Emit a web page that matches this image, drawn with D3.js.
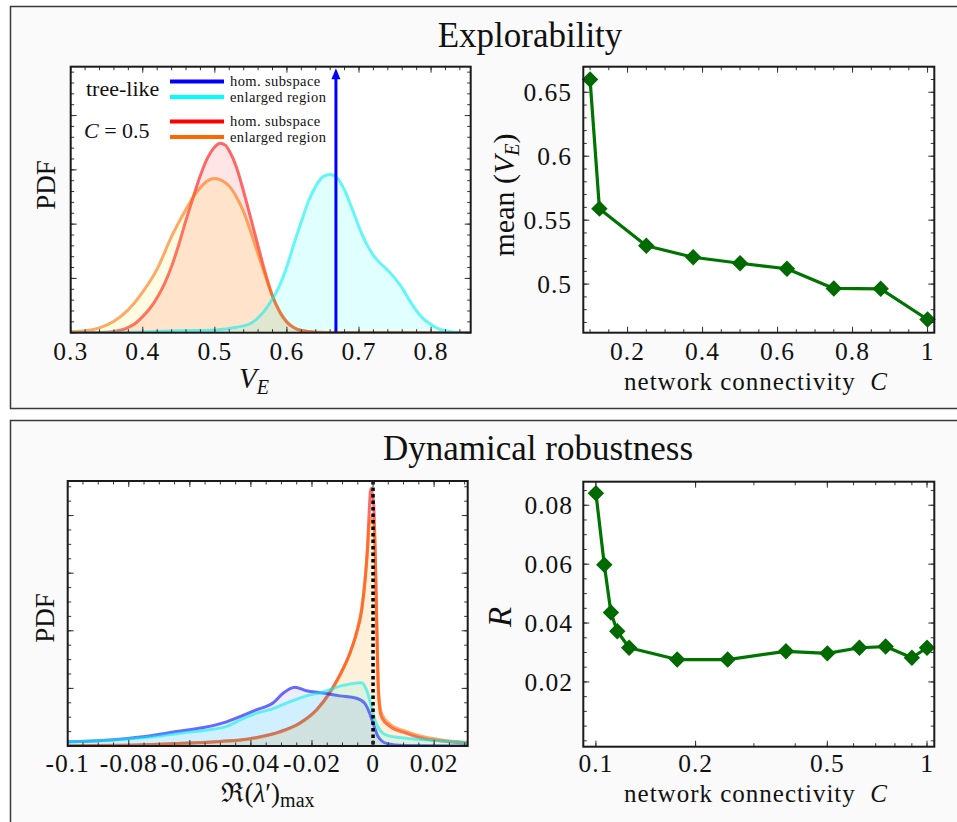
<!DOCTYPE html>
<html>
<head>
<meta charset="utf-8">
<script src="https://cdn.jsdelivr.net/npm/d3@7/dist/d3.min.js"></script>
<style>
  body { margin: 0; background: #ffffff; }
  svg { display: block; }
</style>
</head>
<body>
<div id="chart"></div>
<script>
// ---- explorability: PDF of V_E (arbitrary units) ----
const veEnlargedTree = [
  [0.3, 0], [0.4, 0.03], [0.45, 0.07], [0.5, 0.1], [0.53, 0.2], [0.55, 0.35], [0.56, 0.55],
  [0.57, 0.85], [0.58, 1.25], [0.59, 1.75], [0.6, 2.45], [0.61, 3.3], [0.62, 4.1], [0.63, 4.85],
  [0.64, 5.4], [0.65, 5.75], [0.66, 5.83], [0.67, 5.7], [0.68, 5.25], [0.69, 4.6], [0.7, 3.9],
  [0.71, 3.3], [0.72, 2.85], [0.73, 2.55], [0.74, 2.3], [0.75, 2.0], [0.76, 1.65], [0.77, 1.2],
  [0.78, 0.8], [0.79, 0.5], [0.8, 0.3], [0.81, 0.15], [0.82, 0.07], [0.83, 0.03], [0.84, 0.01], [0.86, 0],
]
const veHomC05 = [
  [0.3, 0], [0.35, 0.02], [0.37, 0.1], [0.38, 0.2], [0.39, 0.35], [0.4, 0.6], [0.41, 0.9], [0.42, 1.3],
  [0.43, 1.8], [0.44, 2.45], [0.45, 3.25], [0.46, 4.15], [0.47, 5.0], [0.48, 5.8], [0.49, 6.45],
  [0.5, 6.85], [0.507, 6.98], [0.515, 6.9], [0.52, 6.7], [0.53, 6.1], [0.54, 5.2], [0.55, 4.2],
  [0.56, 3.2], [0.57, 2.2], [0.58, 1.35], [0.59, 0.75], [0.6, 0.38], [0.61, 0.18], [0.62, 0.08],
  [0.64, 0.02], [0.7, 0], [0.86, 0],
]
const veEnlargedC05 = [
  [0.3, 0.04], [0.32, 0.07], [0.34, 0.18], [0.36, 0.42], [0.38, 0.85], [0.4, 1.5], [0.42, 2.35],
  [0.44, 3.55], [0.46, 4.55], [0.47, 5.0], [0.48, 5.35], [0.49, 5.6], [0.5, 5.68], [0.51, 5.6],
  [0.52, 5.4], [0.53, 5.0], [0.54, 4.45], [0.55, 3.7], [0.56, 2.9], [0.57, 2.1], [0.58, 1.35],
  [0.59, 0.8], [0.6, 0.4], [0.61, 0.18], [0.62, 0.08], [0.64, 0.02], [0.7, 0], [0.86, 0],
]
const veHomTree = 0.668 // delta-like peak, drawn as an arrow

const connExpl = [0.1, 0.125, 0.25, 0.375, 0.5, 0.625, 0.75, 0.875, 1]
const meanVE = [0.66, 0.559, 0.53, 0.521, 0.5163, 0.512, 0.4966, 0.4963, 0.4723]

// ---- dynamical robustness: PDF of Re(lambda')max ----
const lamHomTree = [
  [-0.1, 0.75], [-0.0862, 1.06], [-0.0753, 1.6], [-0.0643, 2.5], [-0.0556, 3.2], [-0.048, 4.2],
  [-0.0436, 5.1], [-0.0381, 6.3], [-0.0327, 7.5], [-0.0294, 9.2], [-0.0256, 10.2], [-0.0218, 9.6],
  [-0.0163, 9.2], [-0.0109, 8.7], [-0.0054, 8.3], [-0.0027, 7.4], [-0.0011, 5.7], [0, 4.0],
  [0.0017, 1.6], [0.0044, 0.46], [0.01, 0.1], [0.031, 0],
]
const lamEnlargedTree = [
  [-0.1, 0.7], [-0.0916, 0.87], [-0.0807, 1.2], [-0.0698, 1.75], [-0.059, 2.5], [-0.048, 3.4],
  [-0.0436, 4.5], [-0.0381, 5.7], [-0.0327, 6.5], [-0.0272, 7.7], [-0.0218, 8.7], [-0.0163, 9.4],
  [-0.0109, 10.4], [-0.0038, 11.0], [-0.0021, 9.7], [-0.0005, 6.8], [0.0006, 4.5], [0.0022, 2.8],
  [0.0044, 1.9], [0.011, 1.33], [0.0219, 0.92], [0.031, 0.55],
]
const lamHomC05 = [
  [-0.1, 0.05], [-0.09, 0.1], [-0.08, 0.15], [-0.07, 0.3], [-0.06, 0.5], [-0.05, 0.8],
  [-0.0436, 1.05], [-0.0381, 1.5], [-0.0305, 2.5], [-0.024, 4.0], [-0.0185, 6.3], [-0.0141, 9.4],
  [-0.0109, 12.3], [-0.0076, 16.1], [-0.0054, 19.6], [-0.0037, 23.6], [-0.0026, 28.8],
  [-0.0018, 34.6], [-0.0013, 40.4], [-0.0007, 44.7], [0.0002, 42], [0.001, 27], [0.0016, 11.5],
  [0.0023, 6.0], [0.003, 4.8], [0.0055, 3.4], [0.011, 2.2], [0.0164, 1.3], [0.0219, 0.9], [0.031, 0.45],
]
const lamEnlargedC05 = [
  [-0.1, 0.05], [-0.09, 0.1], [-0.08, 0.15], [-0.07, 0.3], [-0.06, 0.5], [-0.05, 0.8],
  [-0.0436, 1.0], [-0.0381, 1.4], [-0.0305, 2.4], [-0.024, 3.9], [-0.0185, 6.2], [-0.0141, 9.2],
  [-0.0109, 12.2], [-0.0076, 16.0], [-0.0054, 19.8], [-0.0037, 24], [-0.0026, 29], [-0.0018, 34],
  [-0.0012, 38.5], [-0.0005, 39.6], [0.0004, 38], [0.0011, 24], [0.0017, 11], [0.0023, 6.8],
  [0.003, 5.4], [0.0055, 3.8], [0.011, 2.5], [0.0164, 1.6], [0.0219, 1.1], [0.031, 0.6],
]

const connRob = [0.1, 0.106, 0.111, 0.116, 0.126, 0.176, 0.25, 0.375, 0.5, 0.625, 0.75, 0.9, 1]
const robR = [0.0841, 0.0598, 0.0436, 0.0372, 0.0316, 0.0276, 0.0276, 0.0304, 0.0297, 0.0316, 0.032, 0.0282, 0.0316]

// tick labels
const veTickLabels = [0.3, 0.4, 0.5, 0.6, 0.7, 0.8]
const meanXTicks = [0.2, 0.4, 0.6, 0.8, 1]
const meanYTicks = [0.5, 0.55, 0.6, 0.65]
const lamTickLabels = [-0.1, -0.08, -0.06, -0.04, -0.02, 0, 0.02]
const rXTicks = [0.1, 0.2, 0.5, 1]
const rYTicks = [0.02, 0.04, 0.06, 0.08]

const SERIF = "'Liberation Serif', 'DejaVu Serif', serif"
const GREEN = '#007400'

const svg = d3.select('#chart').append('svg').attr('width', 957).attr('height', 822)

// panels
const addPanel = (y, h, title, titleX, titleY) => {
  svg
    .append('rect')
    .attr('x', 10.5)
    .attr('y', y)
    .attr('width', 970)
    .attr('height', h)
    .attr('fill', '#fafafa')
    .attr('stroke', '#3a3a3a')
    .attr('stroke-width', 1.5)
  svg
    .append('text')
    .attr('x', titleX)
    .attr('y', titleY)
    .attr('text-anchor', 'middle')
    .attr('font-family', SERIF)
    .attr('font-size', 35)
    .attr('fill', '#111')
    .text(title)
}
addPanel(6.5, 402, 'Explorability', 530, 47)
addPanel(420.5, 420, 'Dynamical robustness', 538, 460)

const stepTicks = (lo, hi, step) => {
  const out = []
  for (let i = Math.ceil(lo / step - 1e-9); i * step <= hi + 1e-9; i++) out.push(+(i * step).toFixed(6))
  return out
}

const addPlot = (x, y, id) => {
  const [l, r] = x.range()
  const [b, t] = y.range()
  const g = svg.append('g')
  g.append('rect').attr('x', l).attr('y', t).attr('width', r - l).attr('height', b - t).attr('fill', '#ffffff')
  g.append('clipPath').attr('id', id).append('rect').attr('x', l).attr('y', t).attr('width', r - l).attr('height', b - t)
  const inner = g.append('g').attr('clip-path', `url(#${id})`)
  return { g, inner }
}

const drawFrame = (g, x, y, xMaj, xMin, yMaj, yMin) => {
  const [l, r] = x.range()
  const [b, t] = y.range()
  const ticks = g.append('g').attr('stroke', '#333').attr('stroke-width', 1)
  const vTicks = (vals, len) =>
    vals.forEach((v) => {
      ticks.append('line').attr('x1', x(v)).attr('x2', x(v)).attr('y1', b).attr('y2', b - len)
      ticks.append('line').attr('x1', x(v)).attr('x2', x(v)).attr('y1', t).attr('y2', t + len)
    })
  const hTicks = (vals, len) =>
    vals.forEach((v) => {
      ticks.append('line').attr('y1', y(v)).attr('y2', y(v)).attr('x1', l).attr('x2', l + len)
      ticks.append('line').attr('y1', y(v)).attr('y2', y(v)).attr('x1', r).attr('x2', r - len)
    })
  vTicks(xMin, 3.5)
  vTicks(xMaj, 6)
  hTicks(yMin, 3.5)
  hTicks(yMaj, 6)
  g.append('rect')
    .attr('x', l)
    .attr('y', t)
    .attr('width', r - l)
    .attr('height', b - t)
    .attr('fill', 'none')
    .attr('stroke', '#1a1a1a')
    .attr('stroke-width', 2)
}

const xLabels = (g, x, vals, baseline) => {
  g.selectAll(null)
    .data(vals)
    .join('text')
    .attr('x', (d) => x(d))
    .attr('y', baseline)
    .attr('text-anchor', 'middle')
    .attr('font-family', SERIF)
    .attr('font-size', 25.5)
    .attr('letter-spacing', 1)
    .attr('fill', '#111')
    .text((d) => String(d))
}

const yLabels = (g, y, vals, right) => {
  g.selectAll(null)
    .data(vals)
    .join('text')
    .attr('x', right)
    .attr('y', (d) => y(d) + 9)
    .attr('text-anchor', 'end')
    .attr('font-family', SERIF)
    .attr('font-size', 25.5)
    .attr('letter-spacing', 1)
    .attr('fill', '#111')
    .text((d) => String(d))
}

const drawDensity = (g, x, y, data, stroke, fill, fillOpacity) => {
  const area = d3
    .area()
    .x((d) => x(d[0]))
    .y0(y(0))
    .y1((d) => y(d[1]))
    .curve(d3.curveMonotoneX)
  g.append('path').attr('d', area(data)).attr('fill', fill).attr('fill-opacity', fillOpacity)
  g.append('path')
    .attr('d', area.lineY1()(data))
    .attr('fill', 'none')
    .attr('stroke', stroke)
    .attr('stroke-opacity', 0.58)
    .attr('stroke-width', 3)
    .attr('stroke-linejoin', 'round')
}

const rotatedLabel = (x, y, size) =>
  svg
    .append('text')
    .attr('transform', `translate(${x},${y}) rotate(-90)`)
    .attr('text-anchor', 'middle')
    .attr('font-family', SERIF)
    .attr('font-size', size)
    .attr('fill', '#111')

// ---- top-left: V_E densities ----
const veX = d3.scaleLinear([0.3, 0.855], [70.7, 470.7])
const veY = d3.scaleLinear([0, 9.8], [332.7, 66.7])
const tl = addPlot(veX, veY, 'clip-tl')

// drawn back to front: later fills wash over earlier lines, as in the original
drawDensity(tl.inner, veX, veY, veHomC05, '#ff0000', '#ff0000', 0.1)
drawDensity(tl.inner, veX, veY, veEnlargedC05, '#ff6a00', '#ffe000', 0.11)
drawDensity(tl.inner, veX, veY, veEnlargedTree, '#00f0f0', '#00ffff', 0.12)

// tree-like hom. subspace: delta peak -> arrow
tl.inner
  .append('line')
  .attr('x1', veX(veHomTree))
  .attr('x2', veX(veHomTree))
  .attr('y1', veY(0))
  .attr('y2', veY.range()[1] + 10)
  .attr('stroke', '#0000ff')
  .attr('stroke-width', 3)
tl.inner
  .append('path')
  .attr('d', `M${veX(veHomTree)},${veY.range()[1] + 1.5} l-4.5,11 l9,0 z`)
  .attr('fill', '#0000ff')

drawFrame(tl.g, veX, veY, veTickLabels, stepTicks(0.3, 0.855, 0.02), stepTicks(0, 9.8, 2), stepTicks(0, 9.8, 0.4))
xLabels(tl.g, veX, veTickLabels, 360)

// legend
const legendRows = [
  { y: 81.5, color: '#0000ff', text: 'hom. subspace' },
  { y: 97, color: '#00ffff', text: 'enlarged region' },
  { y: 121.5, color: '#ff0000', text: 'hom. subspace' },
  { y: 137, color: '#ff6600', text: 'enlarged region' },
]
legendRows.forEach((row) => {
  tl.g.append('line').attr('x1', 170).attr('x2', 224).attr('y1', row.y).attr('y2', row.y).attr('stroke', row.color).attr('stroke-width', 4)
  tl.g
    .append('text')
    .attr('x', 230)
    .attr('y', row.y + 4.5)
    .attr('font-family', SERIF)
    .attr('font-size', 14.5)
    .attr('letter-spacing', 0.4)
    .attr('fill', '#111')
    .text(row.text)
})
tl.g.append('text').attr('x', 86).attr('y', 96).attr('font-family', SERIF).attr('font-size', 22).attr('fill', '#111').text('tree-like')
const cLab = tl.g.append('text').attr('x', 84).attr('y', 138).attr('font-family', SERIF).attr('font-size', 22).attr('fill', '#111')
cLab.append('tspan').attr('font-style', 'italic').text('C')
cLab.append('tspan').text(' = 0.5')

const veLab = svg.append('text').attr('x', 254).attr('y', 388).attr('text-anchor', 'middle').attr('font-family', SERIF).attr('font-size', 29).attr('fill', '#111')
veLab.append('tspan').attr('font-style', 'italic').text('V')
veLab.append('tspan').attr('font-style', 'italic').attr('font-size', 20).attr('dy', 6).text('E')

rotatedLabel(55, 185, 27).text('PDF')

// ---- top-right: mean V_E vs C ----
const meanX = d3.scaleLinear([0.082, 1.018], [583.3, 934.3])
const meanY = d3.scaleLinear([0.462, 0.67], [332.7, 66.7])
const tr = addPlot(meanX, meanY, 'clip-tr')

const explPts = connExpl.map((c, i) => [c, meanVE[i]])
tr.g
  .append('path')
  .attr('d', d3.line().x((d) => meanX(d[0])).y((d) => meanY(d[1]))(explPts))
  .attr('fill', 'none')
  .attr('stroke', GREEN)
  .attr('stroke-width', 3.2)
  .attr('stroke-linejoin', 'round')
tr.g
  .selectAll(null)
  .data(explPts)
  .join('path')
  .attr('d', d3.symbol(d3.symbolSquare, 135)())
  .attr('transform', (d) => `translate(${meanX(d[0])},${meanY(d[1])}) rotate(45)`)
  .attr('fill', '#006a00')

drawFrame(tr.g, meanX, meanY, meanXTicks, stepTicks(0.1, 1.018, 0.05), meanYTicks, stepTicks(0.47, 0.67, 0.01))
xLabels(tr.g, meanX, meanXTicks, 360)
yLabels(tr.g, meanY, meanYTicks, 572)

const netLab = (y) => {
  const t = svg.append('text').attr('x', 756).attr('y', y).attr('text-anchor', 'middle').attr('font-family', SERIF).attr('font-size', 25).attr('letter-spacing', 1).attr('fill', '#111')
  t.append('tspan').text('network connectivity\u00a0 ')
  t.append('tspan').attr('font-style', 'italic').text('C')
}
netLab(390)

const mLab = rotatedLabel(514, 195, 30)
mLab.append('tspan').text('mean (')
mLab.append('tspan').attr('font-style', 'italic').text('V')
mLab.append('tspan').attr('font-style', 'italic').attr('font-size', 20).attr('dy', 5).text('E')
mLab.append('tspan').attr('dy', -5).text(')')

// ---- bottom-left: Re(lambda')max densities ----
const lamX = d3.scaleLinear([-0.1, 0.031], [67.7, 467.7])
const lamY = d3.scaleLinear([0, 46], [746, 481])
const bl = addPlot(lamX, lamY, 'clip-bl')

drawDensity(bl.inner, lamX, lamY, lamHomC05, '#ff0000', '#ff0000', 0.05)
drawDensity(bl.inner, lamX, lamY, lamEnlargedC05, '#ff6a00', '#ffe000', 0.1)
drawDensity(bl.inner, lamX, lamY, lamHomTree, '#0000ff', '#0000ff', 0.07)
drawDensity(bl.inner, lamX, lamY, lamEnlargedTree, '#00f0f0', '#00ffff', 0.12)

bl.inner
  .append('line')
  .attr('x1', lamX(0))
  .attr('x2', lamX(0))
  .attr('y1', lamY.range()[1])
  .attr('y2', lamY(0))
  .attr('stroke', '#000')
  .attr('stroke-width', 3.5)
  .attr('stroke-dasharray', '3.5,3')

drawFrame(bl.g, lamX, lamY, lamTickLabels, stepTicks(-0.1, 0.031, 0.005), stepTicks(0, 46, 10), stepTicks(0, 46, 2.5))
xLabels(bl.g, lamX, lamTickLabels, 772)

const lamLab = svg.append('text').attr('x', 268).attr('y', 802).attr('text-anchor', 'middle').attr('font-family', SERIF).attr('font-size', 27).attr('fill', '#111')
lamLab.append('tspan').text('\u211c(')
lamLab.append('tspan').attr('font-style', 'italic').text('\u03bb')
lamLab.append('tspan').text('\u2032)')
lamLab.append('tspan').attr('font-size', 20).attr('dy', 5).text('max')

rotatedLabel(54, 618, 27).text('PDF')

// ---- bottom-right: R vs C (log x) ----
const rX = d3.scaleLog([0.0916, 1.052], [583.3, 934.3])
const rY = d3.scaleLinear([-0.002, 0.088], [746.7, 481.7])
const br = addPlot(rX, rY, 'clip-br')

const robPts = connRob.map((c, i) => [c, robR[i]])
br.g
  .append('path')
  .attr('d', d3.line().x((d) => rX(d[0])).y((d) => rY(d[1]))(robPts))
  .attr('fill', 'none')
  .attr('stroke', GREEN)
  .attr('stroke-width', 3.2)
  .attr('stroke-linejoin', 'round')
br.g
  .selectAll(null)
  .data(robPts)
  .join('path')
  .attr('d', d3.symbol(d3.symbolSquare, 135)())
  .attr('transform', (d) => `translate(${rX(d[0])},${rY(d[1])}) rotate(45)`)
  .attr('fill', '#006a00')

drawFrame(br.g, rX, rY, rXTicks, stepTicks(0.1, 1, 0.1), rYTicks, stepTicks(0, 0.088, 0.005))
xLabels(br.g, rX, rXTicks, 772)
yLabels(br.g, rY, rYTicks, 573)
netLab(802)

rotatedLabel(511, 617, 33).attr('font-style', 'italic').text('R')
</script>
</body>
</html>
